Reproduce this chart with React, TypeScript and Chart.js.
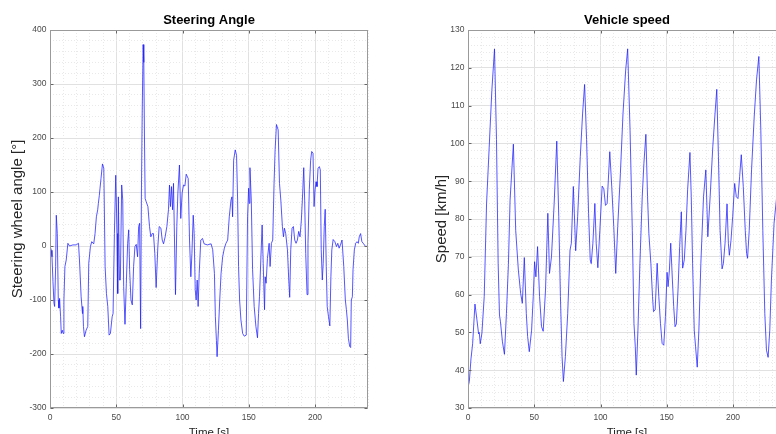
import React, { useEffect, useRef } from 'react';
import { Chart, registerables } from 'chart.js';

Chart.register(...registerables);

// ---------- data ----------
const steerTime = [
  0, 1, 1.5, 2.25, 3, 3.5, 4.25, 4.75, 5.5, 6.25, 6.75, 7.25, 8, 8.5, 9.25, 10, 10.5, 11.25, 12.25, 13.5,
  14.75, 17.25, 19.75, 21.5, 22.25, 23.5, 24.5, 24.75, 25.25, 26, 27.25, 28.5, 29.25, 30.5, 31.5, 33, 34, 35, 36, 36.5,
  37.25, 37.75, 38.5, 39.6, 40.6, 41.6, 42.6, 43.6, 44.6, 45.6, 46.9, 47.6, 48.6, 49.6, 50.6, 51.1, 51.6, 52.4, 53.1, 54.1,
  54.9, 55.6, 56.6, 57.6, 58.6, 59.4, 60.1, 61.1, 62.1, 63.1, 64.1, 65.1, 66.1, 66.9, 67.6, 68.4, 69.0, 69.6, 70.3, 70.8,
  71.3, 71.8, 72.6, 73.9, 75.1, 76.1, 77.1, 78.1, 79.1, 80.1, 81.4, 82.4, 83.7, 84.7, 85.7, 86.9, 88.2, 89.4, 90.2, 90.9,
  91.7, 92.5, 93.2, 94.7, 95.7, 96.5, 97.7, 98.7, 99.7, 100.8, 101.8, 102.8, 104.3, 105.3, 106.3, 107.1, 108.1, 108.8, 109.6, 110.3,
  111.1, 111.8, 112.6, 113.8, 115.1, 116.3, 118.8, 121.6, 122.8, 124.1, 124.8, 125.6, 126.1, 127.1, 128.1, 129.1, 130.3, 131.6, 132.8, 134.1,
  135.3, 136.6, 137.3, 137.8, 138.6, 139.8, 140.8, 141.6, 142.3, 143.1, 144.1, 145.4, 146.6, 148.1, 149.1, 149.9, 150.4, 150.9, 151.9, 152.9,
  154.1, 155.4, 156.6, 157.4, 158.1, 159.1, 160.1, 160.9, 161.9, 162.4, 163.1, 164.1, 165.4, 166.1, 167.1, 168.1, 169.1, 169.9, 170.9, 172.2,
  173.2, 174.2, 175.4, 176.2, 176.9, 177.9, 179.2, 180.2, 180.9, 181.7, 182.7, 183.7, 184.7, 185.7, 186.7, 187.7, 188.7, 189.7, 190.7, 191.5,
  192.2, 193, 194, 194.7, 195.7, 196.7, 197.5, 198.5, 199.3, 200, 200.8, 201.5, 202.3, 203.3, 204, 204.7, 205.5, 206.2, 207, 207.7,
  208.5, 209.2, 210.2, 211.2, 212, 212.7, 213.7, 215, 216.2, 217.2, 218.2, 219.2, 220.4, 221.7, 222.9, 223.7, 224.4, 225.2, 226.2, 226.9,
  227.4, 228.2, 228.7, 229.7, 230.7, 231.7, 232.7, 233.4, 234.4, 235.4, 236.7, 238.2, 240,
];
const steerAngle = [
  0, -8, -20, -66, -106, -112, -38, 57, 23, -100, -115, -97, -131, -162, -156, -162, -100, -38, -26, 5,
  0, 2, 2, 5, -26, -94, -125, -112, -149, -168, -156, -149, -32, -1, 8, 4, 23, 54, 67, 79,
  94, 107, 125, 152, 144, -38, -88, -112, -165, -162, -131, -125, 23, 131, 23, -88, 91, -63, -63, 113,
  85, -75, -145, -69, 5, 30, -44, -100, -109, -38, -1, 3, -20, 36, 42, -153, 100, 250, 373, 340,
  200, 88, 82, 73, 36, 17, 23, 23, -14, -77, -1, 36, 33, 11, 4, 17, 36, 67, 113, 73,
  110, 67, 116, -90, 36, 98, 150, 51, 98, 113, 111, 133, 125, 11, -57, -14, 57, 23, -81, -100,
  -63, -112, -51, 11, 14, 4, 2, 4, -7, -51, -131, -175, -205, -156, -100, -51, -20, -4, 5, 11,
  54, 85, 91, 54, 159, 178, 168, 85, -38, -100, -137, -162, -167, -165, 54, 107, 79, 145, 85, -44,
  -112, -149, -170, -125, -94, -26, 39, -32, -118, -57, -69, -23, 5, -38, 5, 11, 116, 178, 225, 215,
  116, 85, 36, 17, 33, 23, -7, -63, -95, -7, 33, 36, 11, 5, 11, 27, 17, 48, 98, 145,
  85, -14, -90, 5, 104, 159, 175, 172, 73, 104, 119, 110, 144, 147, 141, -7, -63, -32, 36, 68,
  -38, -112, -131, -148, -57, -7, 12, 8, -1, 5, -4, 2, 11, -38, -100, -118, -137, -171, -186, -188,
  -100, -94, -44, -7, 5, 8, 5, 17, 23, 8, 4, -1, 0,
];

const speedTime = [
  0, 1, 2.25, 3.5, 5.25, 6.75, 8, 8.5, 9.25, 10.5, 12.25, 14, 16, 18, 20, 21.5, 22.75, 23.75, 24.5, 26,
  27.5, 29, 30.5, 31.75, 34.25, 36, 38, 39.75, 41, 42.5, 44, 45, 46.25, 48, 49.25, 50.25, 51.25, 52.5, 54, 55.5,
  56.75, 58.5, 60.25, 61.5, 63, 65, 67, 68.5, 69.75, 71, 72, 73.5, 75.25, 77, 78, 79.5, 80.25, 81.25, 82.75, 84.75,
  86.5, 88, 89.5, 91, 92.25, 93, 94.25, 95.75, 96.75, 98, 99.5, 101.25, 102.5, 103.75, 105, 107, 108.5, 110, 111.5, 113,
  115, 117, 119, 120.5, 122.3, 124, 125.25, 126.25, 127, 128.25, 129.75, 131.5, 132.75, 134.25, 135.5, 136.5, 138, 139.25, 140, 141.25,
  142.75, 144, 145.25, 146.5, 147.75, 149, 150.25, 151, 152, 153, 154.25, 155.25, 156.25, 157.25, 158.5, 159.75, 161, 162, 163.25, 164.5,
  165.75, 167.5, 168.5, 169.5, 170.75, 171.75, 173, 174.25, 175.75, 177.75, 179.5, 181, 182.75, 184.75, 186.25, 187.75, 189, 190.25, 191.75, 192.75,
  194, 195.5, 196.5, 197.25, 198.5, 199.75, 201.25, 202.5, 203.75, 205, 206.25, 207.75, 209.25, 210.25, 211, 212.25, 214, 216, 217.75, 219.5,
  221, 222.5, 224, 225.25, 226.5, 227.75, 229, 231, 233,
];
const speedValue = [
  35.5, 37, 43, 47, 57.5, 53.3, 49.6, 50, 47, 49.8, 59.5, 84, 99, 114, 125, 101, 68.3, 54.6, 52.8, 47.5,
  44.2, 55, 68, 85, 99.8, 77, 66.5, 60.3, 57.7, 69.8, 55, 48.9, 44.9, 50.6, 59.5, 68.7, 64.7, 72.7, 59.5, 51.5,
  50.3, 61.2, 81.5, 65.6, 70, 84, 100.6, 80.6, 59.5, 43.6, 37, 43.6, 55, 71.8, 73.6, 88.6, 81.5, 71.6, 80.6, 96.5,
  108, 115.6, 101, 81.5, 69.2, 68.2, 73.6, 84.1, 73.6, 67.1, 77, 88.7, 88, 83.6, 84.1, 97.8, 88.5, 78, 65.6, 78,
  92, 108, 119.4, 125, 103.5, 77, 52.4, 46.2, 38.7, 50.6, 68.3, 85.9, 94.7, 102.4, 85.9, 76.2, 68.3, 59.5, 55.5, 56,
  68.3, 59.5, 52.4, 47.1, 46.6, 54.2, 65.9, 62.1, 66.5, 73.6, 63.9, 56.8, 51.5, 52.2, 61.2, 72.7, 81.9, 67, 69.2, 77,
  87.7, 97.6, 85.9, 68.3, 50.6, 46.2, 40.8, 50.6, 68.3, 85.9, 93, 75.3, 85.9, 99.1, 107, 114.3, 96.5, 77, 66.8, 68.3,
  73.6, 84, 73.6, 70.4, 74.4, 80.6, 89.4, 85.9, 85.4, 91.2, 97, 88.6, 77, 70.9, 69.6, 77, 93, 107, 116.8, 123,
  103.5, 77, 55, 45.3, 43.4, 50.6, 63.9, 78.9, 86,
];

const timeRange = [0, 240];
const timeMajorStep = 50;
const timeMinorStep = 10;
const steerRange = [-300, 400];
const steerSteps = [100, 20];
const speedRange = [30, 130];
const speedSteps = [10, 2];

// ---------- layout constants ----------
const FONT = "'Liberation Sans', Arial, Helvetica, sans-serif";
const CANVAS_H = 450;
const PLOT_BOTTOM = 408;

const boxPlugin = {
  id: 'axesBox',
  afterDatasetsDraw(chart: any) {
    const { ctx, chartArea: a } = chart;
    const xs = chart.scales.x;
    const ys = chart.scales.y;
    const L = Math.round(a.left) + 0.5;
    const R = Math.round(a.right) - 0.5;
    const T = Math.round(a.top) + 0.5;
    const B = Math.round(a.bottom) - 0.5;
    ctx.save();
    ctx.lineWidth = 1;
    ctx.strokeStyle = '#666';
    ctx.beginPath();
    xs.ticks.forEach((t: any) => {
      const px = Math.round(xs.getPixelForValue(t.value)) + 0.5;
      ctx.moveTo(px, B);
      ctx.lineTo(px, B - 3);
      ctx.moveTo(px, T);
      ctx.lineTo(px, T + 3);
    });
    ys.ticks.forEach((t: any) => {
      const py = Math.round(ys.getPixelForValue(t.value)) + 0.5;
      ctx.moveTo(L, py);
      ctx.lineTo(L + 3, py);
      ctx.moveTo(R, py);
      ctx.lineTo(R - 3, py);
    });
    ctx.stroke();
    ctx.strokeStyle = '#9a9a9a';
    ctx.strokeRect(L, T, R - L, B - T);
    ctx.restore();
  },
};

type Spec = {
  title: string;
  yTitle: string;
  t: number[];
  v: number[];
  yRange: number[];
  ySteps: number[];
  yAxisWidth: number;
  yTitlePad: number;
  padRight: number;
};

function buildConfig(p: Spec): any {
  const minorColor = (major: number) => (ctx: any) =>
    ctx.tick && Math.abs(ctx.tick.value % major) < 1e-6 ? 'rgba(0,0,0,0)' : '#e9e9e9';
  return {
    type: 'line',
    data: {
      datasets: [
        {
          data: p.t.map((x, i) => ({ x, y: p.v[i] })),
          borderColor: 'rgb(30,30,255)',
          borderWidth: 0.75,
          pointRadius: 0,
          fill: false,
          tension: 0,
        },
      ],
    },
    options: {
      animation: false,
      responsive: false,
      devicePixelRatio: 1,
      layout: { padding: { left: 0, right: p.padRight, top: 0, bottom: 0 } },
      plugins: {
        legend: { display: false },
        tooltip: { enabled: false },
        title: {
          display: true,
          text: p.title,
          fullSize: false,
          color: '#000',
          font: { family: FONT, size: 13, weight: 'bold', lineHeight: 1.2 },
          padding: { top: 12.5, bottom: 1.9 },
        },
      },
      scales: {
        x: {
          type: 'linear',
          position: 'bottom',
          min: timeRange[0],
          max: timeRange[1],
          ticks: {
            stepSize: timeMajorStep,
            includeBounds: false,
            autoSkip: false,
            maxRotation: 0,
            padding: 5,
            color: '#4a4a4a',
            font: { family: FONT, size: 8.5 },
          },
          grid: { color: '#e1e1e1', drawTicks: false },
          border: { display: false },
          title: {
            display: true,
            text: 'Time [s]',
            color: '#262626',
            font: { family: FONT, size: 11.5, lineHeight: 1.2 },
            padding: { top: 0, bottom: 10 },
          },
          afterFit: (s: any) => {
            s.height = CANVAS_H - PLOT_BOTTOM;
          },
        },
        xMinor: {
          type: 'linear',
          position: 'bottom',
          min: timeRange[0],
          max: timeRange[1],
          ticks: { display: false, stepSize: timeMinorStep },
          grid: { color: minorColor(timeMajorStep), drawTicks: false },
          border: { display: false, dash: [1, 2] },
          afterFit: (s: any) => {
            s.height = 0;
          },
        },
        y: {
          type: 'linear',
          position: 'left',
          min: p.yRange[0],
          max: p.yRange[1],
          ticks: {
            stepSize: p.ySteps[0],
            autoSkip: false,
            padding: 3.5,
            color: '#4a4a4a',
            font: { family: FONT, size: 8.5 },
          },
          grid: { color: '#e1e1e1', drawTicks: false },
          border: { display: false },
          title: {
            display: true,
            text: p.yTitle,
            color: '#262626',
            font: { family: FONT, size: 15, lineHeight: 1.2 },
            padding: { top: p.yTitlePad, bottom: 0 },
          },
          afterFit: (s: any) => {
            s.width = p.yAxisWidth;
          },
        },
        yMinor: {
          type: 'linear',
          position: 'left',
          min: p.yRange[0],
          max: p.yRange[1],
          ticks: { display: false, stepSize: p.ySteps[1] },
          grid: { color: minorColor(p.ySteps[0]), drawTicks: false },
          border: { display: false, dash: [1, 2] },
          afterFit: (s: any) => {
            s.width = 0;
          },
        },
      },
    },
    plugins: [boxPlugin],
  };
}

const steerSpec: Spec = {
  title: 'Steering Angle',
  yTitle: 'Steering wheel angle [°]',
  t: steerTime,
  v: steerAngle,
  yRange: steerRange,
  ySteps: steerSteps,
  yAxisWidth: 50,
  yTitlePad: 9,
  padRight: 20,
};

const speedSpec: Spec = {
  title: 'Vehicle speed',
  yTitle: 'Speed [km/h]',
  t: speedTime,
  v: speedValue,
  yRange: speedRange,
  ySteps: speedSteps,
  yAxisWidth: 80,
  yTitlePad: 44.7,
  padRight: 2,
};

function Panel({ spec, left, width }: { spec: Spec; left: number; width: number }) {
  const ref = useRef<HTMLCanvasElement>(null);
  useEffect(() => {
    const chart = new Chart(ref.current as HTMLCanvasElement, buildConfig(spec));
    return () => chart.destroy();
  }, [spec]);
  return (
    <canvas
      ref={ref}
      width={width}
      height={CANVAS_H}
      style={{ position: 'absolute', left, top: 0, width, height: CANVAS_H }}
    />
  );
}

export default function App() {
  return (
    <div
      style={{
        position: 'fixed',
        left: 0,
        top: 0,
        width: 776,
        height: 434,
        overflow: 'hidden',
        background: '#fff',
      }}
    >
      <Panel spec={steerSpec} left={0} width={388} />
      <Panel spec={speedSpec} left={388} width={400} />
    </div>
  );
}
